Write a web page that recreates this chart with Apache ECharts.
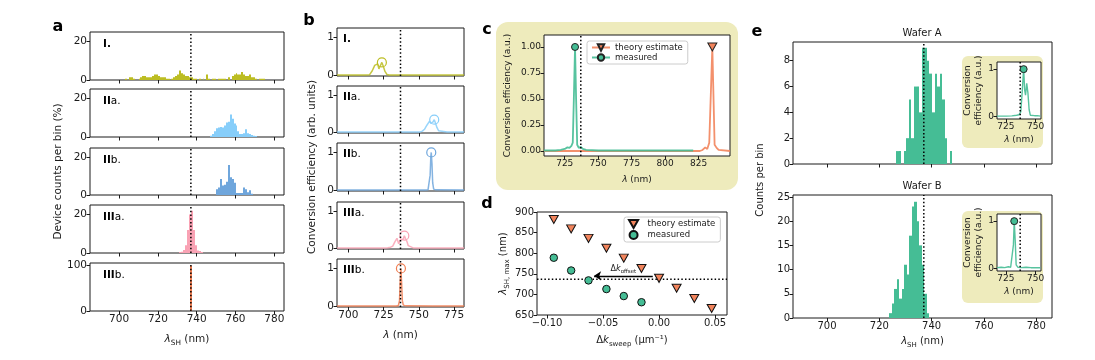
<!DOCTYPE html>
<html><head><meta charset="utf-8">
<script src="https://cdn.jsdelivr.net/npm/echarts@6/dist/echarts.min.js"></script>
<style>html,body{margin:0;padding:0;background:#fff}#c{width:1095px;height:360px}</style>
</head><body><div id="c"></div>
<script>
// ===================== DATA =====================
const DOT_LAMBDA = 737;                       // dotted reference wavelength (nm)
// Panel a: histograms, % of devices per bin
const A_I_START = 703,  A_I_BIN = 1;
const A_I = [0.7,0,1.4,1.4,0.7,0,0,0.7,1.4,2.1,2.1,1.4,1.4,1.4,2.1,2.8,2.8,2.1,1.4,1.4,1.4,0.7,0.7,0,0.7,1.4,2.1,2.8,4.9,3.5,2.8,2.1,2.1,1.4,1.4,0.7,0.7,0,0.7,0,0.7,0,2.8,0.7,0,0.7,0.7,0,0.7,0.7,0.7,0.7,0,1.4,0,2.1,2.8,3.5,2.8,2.8,4.2,2.8,2.1,2.1,2.8,1.4,1.4,0.7,0,0.7,0.7,0.7];
const A_IIA_START = 747, A_IIA_BIN = 1;
const A_IIA = [0.7,1.5,3,4.5,5,5.2,5,6,7.5,8,11.7,9.5,7,6,3,1.5,1.5,2,4,2,1.5,1,0.7,0.5];
const A_IIB_START = 750, A_IIB_BIN = 1;
const A_IIB = [3,4,8.5,5,5.5,7,16,9.5,8.5,6.5,1,1,1,1,4,3,1.5,2.5,0.7];
const A_IIIA_START = 731, A_IIIA_BIN = 1;
const A_IIIA = [0.5,0.7,1.5,4,12,20,22,12,4,1.3,1,0.5];
const A_IIIB_START = 736.6, A_IIIB_BIN = 0.9;
const A_IIIB = [100];
const A_X_TICKS = [700,720,740,760,780];
const A_Y_TICKS = [0,20];
const A_Y_TICKS_LAST = [0,100];

// Panel b: conversion efficiency spectra (arb. units)
const B_I_X = [692,700,712,715,716,717,718,718.7,719.7,720.8,721.7,722.7,723.8,725,726,727.4,729,740,760,782];
const B_I_Y = [0.005,0.005,0.005,0.01,0.05,0.12,0.2,0.26,0.22,0.3,0.17,0.25,0.34,0.22,0.1,0.02,0.005,0.005,0.005,0.005];
const B_IIA_X = [692,720,749,751,752.5,754,755.7,756.6,757.6,758.5,759.3,760.1,760.9,761.8,762.8,764,765.2,770,782];
const B_IIA_Y = [0.005,0.005,0.005,0.01,0.03,0.08,0.19,0.22,0.3,0.24,0.19,0.28,0.34,0.25,0.13,0.04,0.01,0.005,0.005];
const B_IIB_X = [692,720,755,756.5,757.3,758,758.5,758.8,759.3,759.8,760.5,762,782];
const B_IIB_Y = [0.005,0.005,0.005,0.01,0.04,0.4,0.9,1.0,0.7,0.2,0.03,0.01,0.005];
const B_IIIA_X = [692,710,726,728,730,731.5,733,734.5,735.7,736.8,738,739,739.7,740.6,741.6,742.5,743.5,746,760,782];
const B_IIIA_Y = [0.005,0.005,0.005,0.015,0.03,0.06,0.17,0.27,0.12,0.22,0.27,0.25,0.34,0.26,0.18,0.07,0.02,0.01,0.005,0.005];
const B_IIIB_X = [692,720,734,735.5,736.3,736.8,737.3,737.8,738.3,739,741,760,782];
const B_IIIB_Y = [0.005,0.005,0.005,0.02,0.15,0.7,1.0,0.6,0.15,0.03,0.01,0.005,0.005];
const B_X_TICKS = [700,725,750,775];
const B_Y_TICKS = [0,1];

// Panel c: measured vs theory spectrum
const C_MEAS_X = [709.5,718,722,725,727,728.5,730,731,731.8,732.7,733.5,734.3,735.5,737,738.5,741,750,780,800,821];
const C_MEAS_Y = [0.005,0.005,0.01,0.02,0.035,0.03,0.05,0.08,0.5,1.0,0.5,0.06,0.03,0.04,0.02,0.01,0.005,0.005,0.005,0.005];
const C_THEO_X = [709.5,760,826,828,830,831.5,833,834.3,835.3,836.2,837,838.5,840,848.5];
const C_THEO_Y = [0,0,0,0.01,0.035,0.02,0.08,0.6,1.0,0.5,0.06,0.03,0.01,0];
const C_X_TICKS = [725,750,775,800,825];
const C_Y_TICKS = [0,0.25,0.5,0.75,1.0];

// Panel d: peak wavelength vs Δk_sweep
const D_DK = [-0.094,-0.0785,-0.063,-0.047,-0.0315,-0.0157,0.0,0.0157,0.0315,0.047];
const D_THEORY = [882,859,836,812,788,763,739,715,690,666];
const D_MEAS = [789,758,734,713,696,681];          // measured at the first six Δk values
const D_ARROW_DK = [-0.0056,-0.058];
const D_ARROW_Y = 745;
const D_X_TICKS = [-0.10,-0.05,0.0,0.05];
const D_Y_TICKS = [650,700,750,800,850,900];

// Panel e: wafer histograms (counts per bin)
const E_A_START = 726.4, E_A_BIN = 0.98;
const E_A = [1,1,0,1,2,5,2,6,6,4,9,9,8,7,4,7,6,7,5,2,0,1];
const E_B_START = 723.8, E_B_BIN = 0.95;
const E_B = [1,3,6,8,4,6,11,9,17,23,24,20,15,11,5,1];
const E_X_TICKS = [700,720,740,760,780];
const E_A_Y_TICKS = [0,2,4,6,8];
const E_B_Y_TICKS = [0,5,10,15,20,25];
// insets
const INS_A_X = [717.5,725,730,734,736,737.5,738.5,739.9,740.8,741.5,742.5,743.5,744.5,745.5,747,749,750.5,751.5,754];
const INS_A_Y = [0.01,0.01,0.015,0.03,0.04,0.1,0.45,1.0,0.55,0.45,0.7,0.5,0.15,0.03,0.02,0.02,0.06,0.02,0.01];
const INS_B_X = [717.5,721,724,727,729,730.5,731.3,732,732.8,733.6,735,738,742,746,750,754];
const INS_B_Y = [0.02,0.03,0.02,0.04,0.03,0.05,0.5,1.0,0.6,0.08,0.03,0.02,0.03,0.02,0.02,0.02];
const INS_X_TICKS = [725,750];
const INS_Y_TICKS = [0,1];

// ===================== STYLE / BUILD =====================
const FONT = 'DejaVu Sans';
const AX = '#1a1a1a';
const GREEN = '#45bd95', ORANGE = '#f2845c', YEL = '#eeebbc';
const COLS = ['#bcbd22','#87cefa','#6fa6dc','#f9a2b4','#f07e52'];
const TRI = 'path://M0,0L2,0L1,1.75Z';

function rich(fs){
  return {
    n:{fontFamily:FONT,fontSize:fs,color:AX,lineHeight:16},
    i:{fontFamily:FONT,fontSize:fs,fontStyle:'italic',color:AX,lineHeight:16},
    s:{fontFamily:FONT,fontSize:fs*0.7,color:AX,lineHeight:9,verticalAlign:'bottom'}
  };
}
const grids=[], xAxes=[], yAxes=[], series=[];
function addGrid(left,top,width,height,z){
  grids.push({left,top,width,height,show:true,borderColor:AX,borderWidth:1,backgroundColor:'#fff',z:z||0});
  return grids.length-1;
}
function axis(gi,min,max,ticks,o){
  o=o||{};
  const a={type:'value',gridIndex:gi,min,max,z:o.z||0,
    axisLine:{show:false,onZero:false},
    axisTick:{show:true,length:3.5,lineStyle:{color:AX,width:1},customValues:ticks},
    axisLabel:{show:o.labels!==false,customValues:ticks,fontFamily:FONT,fontSize:o.fs||10,color:AX,margin:3},
    splitLine:{show:false}};
  if(o.fmt) a.axisLabel.formatter=o.fmt;
  if(o.name){a.name=o.name;a.nameLocation='middle';a.nameGap=o.gap;
    a.nameTextStyle={fontFamily:FONT,fontSize:o.nfs||10,color:AX,rich:rich(o.nfs||10),lineHeight:o.lh};
    if(o.rot!==undefined) a.nameRotate=o.rot;}
  return a;
}
function hist(gi,start,bin,counts,color,z){
  series.push({type:'custom',xAxisIndex:gi,yAxisIndex:gi,silent:true,z:z||2,
    data:counts.map((c,i)=>[start+i*bin,start+(i+1)*bin,c]),
    encode:{x:[0,1],y:2},
    renderItem:function(p,api){
      if(api.value(2)<=0) return null;
      const a=api.coord([api.value(0),api.value(2)]), b=api.coord([api.value(1),0]);
      const x0=Math.round(a[0]), x1=Math.max(Math.round(b[0]),x0+1);
      return {type:'rect',shape:{x:x0,y:a[1],width:x1-x0,height:b[1]-a[1]},style:{fill:color}};
    }});
}
function vline(gi,x,y0,y1,z){
  series.push({type:'line',xAxisIndex:gi,yAxisIndex:gi,data:[[x,y0],[x,y1]],symbol:'none',silent:true,z:z||5,
    lineStyle:{color:'#000',width:1.5,type:[1.5,2.2]}});
}
function peakIdx(a){let m=0;a.forEach((v,i)=>{if(v>a[m])m=i;});return m;}
function spec(gi,xs,ys,color,o){
  const pk=peakIdx(ys);
  series.push({type:'line',name:o.name,xAxisIndex:gi,yAxisIndex:gi,data:xs.map((x,i)=>[x,ys[i]]),
    symbol:o.symbol,symbolSize:(v,p)=>p.dataIndex===pk?o.size:0,showSymbol:true,silent:true,z:o.z||3,
    lineStyle:{color,width:o.lw||1.5,opacity:o.op||1},
    itemStyle:{color:o.fill,borderColor:o.stroke,borderWidth:o.bw||1}});
}

// ---- panel a ----
const aTops=[32,89,148,205,263], aH=[48,48,47,48,48];
const aData=[[A_I_START,A_I_BIN,A_I],[A_IIA_START,A_IIA_BIN,A_IIA],[A_IIB_START,A_IIB_BIN,A_IIB],[A_IIIA_START,A_IIIA_BIN,A_IIIA],[A_IIIB_START,A_IIIB_BIN,A_IIIB]];
aTops.forEach((t,k)=>{
  const gi=addGrid(90,t,194,aH[k]);
  const last=k===4;
  xAxes.push(axis(gi,685,785,A_X_TICKS,{labels:last,fs:10.5,name:last?'{i|λ}{s|SH}{n| (nm)}':null,gap:20,nfs:10.5}));
  const ymax=last?106:25;
  yAxes.push(axis(gi,0,ymax,last?A_Y_TICKS_LAST:A_Y_TICKS,{fs:10.5,name:k===2?'{n|Device counts per bin (%)}':null,gap:24,nfs:10.5}));
  hist(gi,aData[k][0],aData[k][1],aData[k][2],COLS[k]);
  vline(gi,DOT_LAMBDA,0,ymax);
});
// ---- panel b ----
const bTops=[28,86,143,202,259], bH=[48,47,48,47,48];
const bData=[[B_I_X,B_I_Y],[B_IIA_X,B_IIA_Y],[B_IIB_X,B_IIB_Y],[B_IIIA_X,B_IIIA_Y],[B_IIIB_X,B_IIIB_Y]];
bTops.forEach((t,k)=>{
  const gi=addGrid(337,t,127,bH[k]);
  const last=k===4;
  xAxes.push(axis(gi,692,782,B_X_TICKS,{labels:last,fs:10.5,name:last?'{i|λ}{n| (nm)}':null,gap:20,nfs:10.5}));
  yAxes.push(axis(gi,-0.02,1.25,B_Y_TICKS,{fs:10.5,name:k===2?'{n|Conversion efficiency (arb. units)}':null,gap:17,nfs:10.5}));
  spec(gi,bData[k][0],bData[k][1],COLS[k],{symbol:'circle',size:9,fill:'rgba(0,0,0,0)',stroke:COLS[k],bw:1.2,op:0.85});
  vline(gi,DOT_LAMBDA,-0.02,1.25);
});
// ---- panel c ----
const gc=addGrid(544,35,186,121);
xAxes.push(axis(gc,709.5,848.5,C_X_TICKS,{fs:9,name:'{i|λ}{n| (nm)}',gap:16,nfs:9}));
yAxes.push(axis(gc,-0.048,1.115,C_Y_TICKS,{fs:9,fmt:v=>v.toFixed(2),name:'{n|Conversion efficiency (a.u.)}',gap:28,nfs:9}));
spec(gc,C_THEO_X,C_THEO_Y,ORANGE,{name:'theory estimate',symbol:TRI,size:[9,8],fill:ORANGE,stroke:'#222',bw:1,lw:1.8,op:0.9});
spec(gc,C_MEAS_X,C_MEAS_Y,GREEN,{name:'measured',symbol:'circle',size:7,fill:GREEN,stroke:'#222',bw:1,lw:1.8,op:0.9});
vline(gc,DOT_LAMBDA,-0.048,1.115);
// ---- panel d ----
const gd=addGrid(537,212,190,103);
const fmtD=v=>(v<0?'\u2212':'')+Math.abs(v).toFixed(2);
xAxes.push(axis(gd,-0.109,0.0607,D_X_TICKS,{fs:10,fmt:fmtD,name:'{n|Δ}{i|k}{s|sweep}{n| (μm⁻¹)}',gap:17,nfs:10}));
yAxes.push(axis(gd,650,900,D_Y_TICKS,{fs:10,name:'{i|λ}{s|SH, max}{n| (nm)}',gap:26,nfs:10}));
series.push({type:'line',xAxisIndex:gd,yAxisIndex:gd,data:[[-0.109,DOT_LAMBDA],[0.0607,DOT_LAMBDA]],symbol:'none',silent:true,z:2,
  lineStyle:{color:'#000',width:1.5,type:[1.5,2.2]}});
series.push({type:'scatter',name:'d theory estimate',xAxisIndex:gd,yAxisIndex:gd,data:D_DK.map((x,i)=>[x,D_THEORY[i]]),
  symbol:TRI,symbolSize:[9,8],itemStyle:{color:ORANGE,borderColor:'#111',borderWidth:1,opacity:1},z:4,silent:true});
series.push({type:'scatter',name:'d measured',xAxisIndex:gd,yAxisIndex:gd,data:D_MEAS.map((y,i)=>[D_DK[i],y]),
  symbol:'circle',symbolSize:7.5,itemStyle:{color:GREEN,borderColor:'#111',borderWidth:1,opacity:1},z:4,silent:true,
  markLine:{silent:true,symbol:['none','arrow'],symbolSize:7,animation:false,
    lineStyle:{color:'#000',width:1.4,type:'solid'},
    label:{show:true,position:'middle',distance:1,formatter:'{n|Δ}{i|k}{s|offset}',
      rich:{n:{fontFamily:FONT,fontSize:8,color:AX,lineHeight:12},i:{fontFamily:FONT,fontSize:8,fontStyle:'italic',color:AX,lineHeight:12},s:{fontFamily:FONT,fontSize:5.5,color:AX,lineHeight:7,verticalAlign:'bottom'}}},
    data:[[{coord:[D_ARROW_DK[0],D_ARROW_Y]},{coord:[D_ARROW_DK[1],D_ARROW_Y]}]]}});
// ---- panel e ----
const ga=addGrid(793,42,259,122);
xAxes.push(axis(ga,687,786,E_X_TICKS,{labels:false}));
yAxes.push(axis(ga,0,9.45,E_A_Y_TICKS,{fs:10}));
hist(ga,E_A_START,E_A_BIN,E_A,GREEN);
vline(ga,DOT_LAMBDA,0,9.45);
const gb=addGrid(793,195,259,123);
xAxes.push(axis(gb,687,786,E_X_TICKS,{fs:10,name:'{i|λ}{s|SH}{n| (nm)}',gap:15,nfs:10}));
yAxes.push(axis(gb,0,25.4,E_B_Y_TICKS,{fs:10}));
hist(gb,E_B_START,E_B_BIN,E_B,GREEN);
vline(gb,DOT_LAMBDA,0,25.4);
// insets
[[62,INS_A_X,INS_A_Y],[214,INS_B_X,INS_B_Y]].forEach(([t,xs,ys])=>{
  const gi=addGrid(997,t,44,57,3);
  xAxes.push(axis(gi,717.5,754.5,INS_X_TICKS,{fs:9,z:4,name:'{i|λ}{n| (nm)}',gap:13,nfs:9}));
  yAxes.push(axis(gi,-0.05,1.15,INS_Y_TICKS,{fs:9,z:4,name:'Conversion\nefficiency (a.u.)',gap:12,nfs:9,lh:11}));
  spec(gi,xs,ys,GREEN,{symbol:'circle',size:7,fill:GREEN,stroke:'#222',bw:1,lw:1.4,op:0.9,z:6});
  vline(gi,DOT_LAMBDA,-0.05,1.15,6);
});

// ---- text & boxes ----
const G=[];
G.push({type:'rect',shape:{x:496,y:22,width:242,height:168,r:12},style:{fill:YEL},z:-1,silent:true});
G.push({type:'rect',shape:{x:962,y:56,width:81,height:92,r:6},style:{fill:YEL},z:1,silent:true});
G.push({type:'rect',shape:{x:962,y:211,width:81,height:92,r:6},style:{fill:YEL},z:1,silent:true});
[['a',58,27],['b',309,21],['c',487,30],['d',487,204],['e',757,32]].forEach(([t,x,y])=>{
  G.push({type:'text',x,y,z:10,silent:true,style:{text:t,fontFamily:FONT,fontSize:16,fontWeight:'bold',fill:'#000',align:'center',verticalAlign:'middle'}});
});
const subRich={b:{fontFamily:FONT,fontSize:10.5,fontWeight:'bold',fill:'#000'},n:{fontFamily:FONT,fontSize:10.5,fill:'#000'}};
const subs=['{b|I.}','{b|II}{n|a.}','{b|II}{n|b.}','{b|III}{n|a.}','{b|III}{n|b.}'];
subs.forEach((s,k)=>{
  G.push({type:'text',x:103,y:aTops[k]+12,z:10,silent:true,style:{text:s,rich:subRich,align:'left',verticalAlign:'middle'}});
  G.push({type:'text',x:343,y:bTops[k]+11,z:10,silent:true,style:{text:s,rich:subRich,align:'left',verticalAlign:'middle'}});
});
G.push({type:'text',x:760,y:180,rotation:Math.PI/2,z:10,silent:true,style:{text:'Counts per bin',fontFamily:FONT,fontSize:10,fill:AX,align:'center',verticalAlign:'middle'}});
G.push({type:'text',x:922,y:33,z:10,silent:true,style:{text:'Wafer A',fontFamily:FONT,fontSize:10,fill:AX,align:'center',verticalAlign:'middle'}});
G.push({type:'text',x:922,y:186,z:10,silent:true,style:{text:'Wafer B',fontFamily:FONT,fontSize:10,fill:AX,align:'center',verticalAlign:'middle'}});

const legBase={orient:'vertical',selectedMode:false,padding:[2,5,2,4],itemGap:1,itemWidth:18,itemHeight:8,
  backgroundColor:'rgba(255,255,255,0.9)',borderColor:'#cccccc',borderWidth:1,borderRadius:2.5,
  textStyle:{fontFamily:FONT,fontSize:8.5,color:AX},z:8};
const option={
  animation:false,backgroundColor:'#fff',textStyle:{fontFamily:FONT},
  grid:grids,xAxis:xAxes,yAxis:yAxes,series:series,
  legend:[
    Object.assign({},legBase,{left:587,top:41,data:['theory estimate','measured']}),
    Object.assign({},legBase,{left:624,top:217,data:['d theory estimate','d measured'],formatter:n=>n.replace('d ','')})
  ],
  graphic:{elements:G}
};
const chart=echarts.init(document.getElementById('c'),null,{renderer:'canvas'});
chart.setOption(option);
</script></body></html>
